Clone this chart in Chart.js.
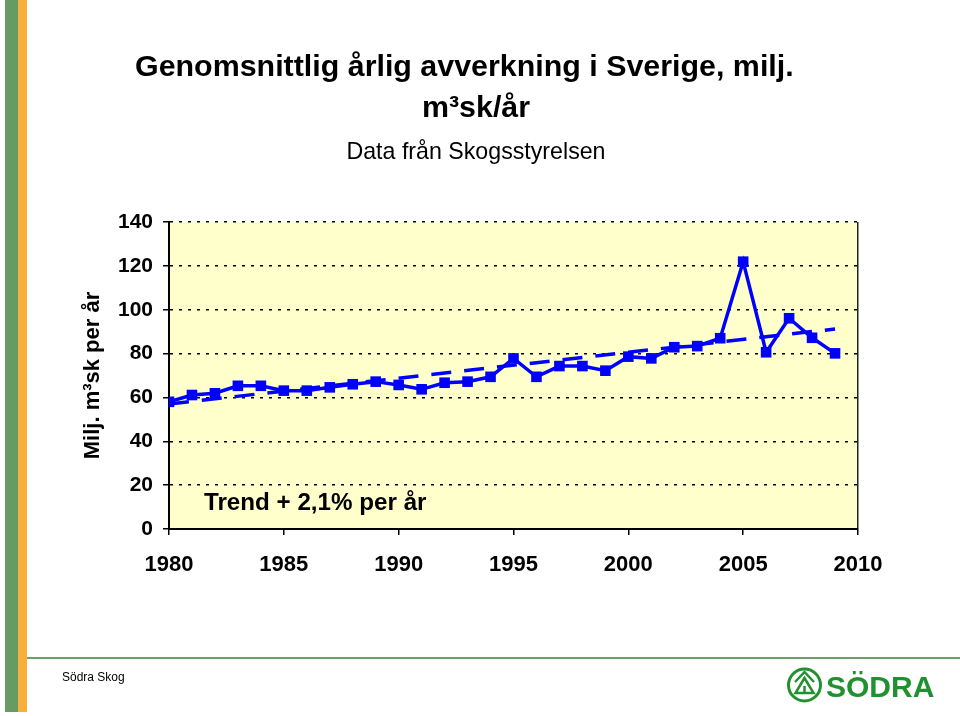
<!DOCTYPE html>
<html>
<head>
<meta charset="utf-8">
<script src="https://cdn.jsdelivr.net/npm/chart.js@4.4.1/dist/chart.umd.min.js"></script>
<style>
html,body{margin:0;padding:0;background:#fff;}
body{width:960px;height:716px;position:relative;overflow:hidden;font-family:"Liberation Sans",Arial,Helvetica,sans-serif;}
#c{position:absolute;left:0;top:0;}
.t{position:absolute;white-space:nowrap;line-height:1;color:#000;}
</style>
</head>
<body>
<div style="position:absolute;left:5px;top:0;width:13px;height:712px;background:#689A64"></div>
<div style="position:absolute;left:18px;top:0;width:9px;height:712px;background:#F9B03A"></div>
<canvas id="c" width="960" height="716"></canvas>
<div class="t" style="left:135px;top:50px;font-size:30.4px;font-weight:bold;">Genomsnittlig årlig avverkning i Sverige, milj.</div>
<div class="t" style="left:0;width:952px;text-align:center;top:91px;font-size:30.4px;font-weight:bold;">m³sk/år</div>
<div class="t" style="left:0;width:952px;text-align:center;top:140px;font-size:23.2px;">Data från Skogsstyrelsen</div>
<div class="t" style="left:204px;top:490px;font-size:24.2px;font-weight:bold;">Trend + 2,1% per år</div>
<div style="position:absolute;left:27px;top:657px;width:933px;height:2px;background:#6E9E6E"></div>
<div class="t" style="left:62px;top:671px;font-size:12px;">Södra Skog</div>
<svg style="position:absolute;left:780px;top:662px" width="170" height="46">
  <circle cx="24.5" cy="23" r="16" fill="none" stroke="#219130" stroke-width="3"/>
  <g stroke="#219130" stroke-width="2.5" fill="none" stroke-linejoin="miter">
    <polyline points="15,20 24.5,10 34,20"/>
    <polygon points="24.5,16 15.5,31 33.5,31"/>
    <line x1="24.5" y1="24" x2="24.5" y2="31"/>
  </g>
  <text x="46" y="35" font-family="Liberation Sans, Arial, sans-serif" font-weight="bold" font-size="30" fill="#219130">SÖDRA</text>
</svg>
<script>
// Data
const years = [1980,1981,1982,1983,1984,1985,1986,1987,1988,1989,1990,1991,1992,1993,1994,1995,1996,1997,1998,1999,2000,2001,2002,2003,2004,2005,2006,2007,2008,2009];
const volumes = [58.0,61.1,61.9,65.3,65.3,63.1,63.1,64.6,66.0,67.2,65.7,63.7,66.7,67.2,69.4,77.8,69.4,74.3,74.3,72.2,78.6,77.8,82.9,83.4,87.0,121.9,80.6,96.1,87.2,80.1];
const trendYears = [1980, 2009];
const trendValues = [57.0, 91.2];
const xTickValues = [1980,1985,1990,1995,2000,2005,2010];
const yTickValues = [0,20,40,60,80,100,120,140];

const FONT = '"Liberation Sans", Arial, Helvetica, sans-serif';

const bgPlugin = {
  id: 'plotBg',
  beforeDraw(chart) {
    const {ctx, chartArea: a} = chart;
    ctx.save();
    ctx.fillStyle = '#FFFFCC';
    ctx.fillRect(a.left, a.top, a.right - a.left, a.bottom - a.top);
    ctx.restore();
  }
};

new Chart(document.getElementById('c'), {
  type: 'line',
  data: {
    datasets: [
      {
        label: 'Avverkning',
        data: years.map((y, i) => ({x: y, y: volumes[i]})),
        borderColor: '#0000FF',
        backgroundColor: '#0000FF',
        borderWidth: 3.5,
        pointStyle: 'rect',
        pointRadius: 7.5,
        pointBorderWidth: 0,
        pointBackgroundColor: '#0000FF',
        tension: 0,
        order: 0
      },
      {
        label: 'Trend',
        data: trendYears.map((y, i) => ({x: y, y: trendValues[i]})),
        borderColor: '#0000FF',
        borderWidth: 3.5,
        borderDash: [20, 13],
        pointRadius: 0,
        tension: 0,
        order: 1
      }
    ]
  },
  options: {
    responsive: false,
    animation: false,
    devicePixelRatio: 1,
    layout: {padding: {left: 60, top: 222, right: 102, bottom: 0}},
    plugins: {legend: {display: false}, tooltip: {enabled: false}, title: {display: false}},
    scales: {
      x: {
        type: 'linear',
        min: 1980, max: 2010,
        afterBuildTicks: s => { s.ticks = xTickValues.map(v => ({value: v})); },
        afterFit: s => { s.height = 187; },
        grid: {
          color: c => (c.tick && c.tick.value === 2010) ? '#222' : 'rgba(0,0,0,0)',
          lineWidth: 1.5, tickColor: '#000', tickLength: 6, tickWidth: 1.5
        },
        border: {display: true, color: '#000', width: 2},
        ticks: {color: '#000', font: {family: FONT, size: 22, weight: 'bold'}, padding: 17,
                callback: v => String(v), maxRotation: 0, autoSkip: false}
      },
      y: {
        min: 0, max: 140,
        afterBuildTicks: s => { s.ticks = yTickValues.map(v => ({value: v})); },
        afterFit: s => { s.width = 109; },
        grid: {color: '#000', lineWidth: 1.5, tickColor: '#000', tickLength: 6, tickWidth: 1.5},
        border: {display: true, color: '#000', width: 2, dash: [3, 6]},
        ticks: {color: '#000', font: {family: FONT, size: 21, weight: 'bold'}, padding: 10,
                callback: v => String(v)},
        title: {display: true, text: 'Milj. m³sk per år', color: '#000',
                font: {family: FONT, size: 22, weight: 'bold'}, padding: {top: 20, bottom: 0}}
      }
    }
  },
  plugins: [bgPlugin]
});
</script>
</body>
</html>
